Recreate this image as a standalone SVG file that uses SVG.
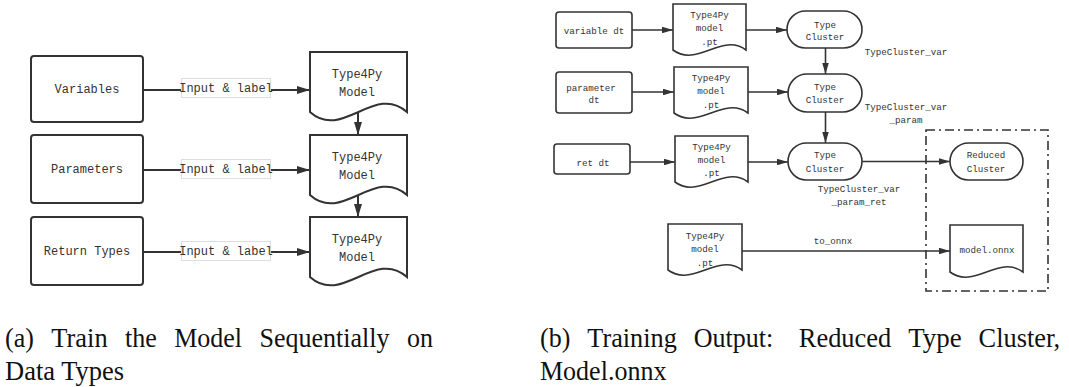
<svg xmlns="http://www.w3.org/2000/svg" width="1069" height="387" viewBox="0 0 1069 387">
  <style>
    .shape { fill: #ffffff; stroke: #333333; stroke-width: 2; }
    .shape-b { fill: #ffffff; stroke: #333333; stroke-width: 1.6; }
    .edge { fill: none; stroke: #333333; stroke-width: 2; }
    .edge-b { fill: none; stroke: #333333; stroke-width: 1.6; }
    .lbl { font-family: "Liberation Mono", "DejaVu Sans Mono", monospace; font-size: 12px; fill: #333333; text-anchor: middle; dominant-baseline: central; }
    .lbl-b { font-family: "Liberation Mono", "DejaVu Sans Mono", monospace; font-size: 9.2px; fill: #333333; text-anchor: middle; dominant-baseline: central; }
    .cap { font-family: "Liberation Serif", "Times New Roman", serif; font-size: 28px; fill: #111111; }
    .tag { fill: #ffffff; stroke: #dddddd; stroke-width: 1; }
    .frame { fill: none; stroke: #333333; stroke-width: 1.6; stroke-dasharray: 9 4 2 4; }
  </style>
  <defs>
    <marker id="arrow" viewBox="0 0 10 10" refX="10" refY="5" markerUnits="userSpaceOnUse" markerWidth="13" markerHeight="8" preserveAspectRatio="none" orient="auto">
      <path d="M0,0 L10,5 L0,10 z" fill="#333333"/>
    </marker>
    <marker id="arrow-b" viewBox="0 0 10 10" refX="10" refY="5" markerUnits="userSpaceOnUse" markerWidth="11" markerHeight="6.5" preserveAspectRatio="none" orient="auto">
      <path d="M0,0 L10,5 L0,10 z" fill="#333333"/>
    </marker>
  </defs>

  <!-- left: sequential training -->
  <g id="connectors-a">
    <line class="edge" x1="143" y1="90" x2="310" y2="90" marker-end="url(#arrow)"/>
    <line class="edge" x1="143" y1="170" x2="310" y2="170" marker-end="url(#arrow)"/>
    <line class="edge" x1="143" y1="252" x2="310" y2="252" marker-end="url(#arrow)"/>
    <line class="edge" x1="358" y1="112" x2="358" y2="135" marker-end="url(#arrow)"/>
    <line class="edge" x1="358" y1="195" x2="358" y2="217" marker-end="url(#arrow)"/>
    <g id="edge-label-1">
      <rect class="tag" x="181.5" y="78.5" width="89" height="19"/>
      <text class="lbl" x="226" y="89">Input &amp; label</text>
    </g>
    <g id="edge-label-2">
      <rect class="tag" x="181.5" y="159.5" width="89" height="19"/>
      <text class="lbl" x="226" y="170">Input &amp; label</text>
    </g>
    <g id="edge-label-3">
      <rect class="tag" x="181.5" y="241.5" width="89" height="19"/>
      <text class="lbl" x="226" y="252">Input &amp; label</text>
    </g>
  </g>

  <g id="variables">
    <rect class="shape" x="31" y="56" width="112" height="66" rx="3"/>
    <text class="lbl" x="87" y="90">Variables</text>
  </g>
  <g id="parameters">
    <rect class="shape" x="31" y="135" width="112" height="68" rx="3"/>
    <text class="lbl" x="87" y="170">Parameters</text>
  </g>
  <g id="return-types">
    <rect class="shape" x="31" y="217" width="112" height="68" rx="3"/>
    <text class="lbl" x="87" y="252">Return Types</text>
  </g>

  <g id="model-1">
    <path class="shape" d="M310,52 H407 V112 C374.7,83 342.3,141 310,112 Z"/>
    <text class="lbl" x="357" y="75">Type4Py</text>
    <text class="lbl" x="357" y="93">Model</text>
  </g>
  <g id="model-2">
    <path class="shape" d="M310,135 H407 V195 C374.7,166 342.3,224 310,195 Z"/>
    <text class="lbl" x="357" y="158">Type4Py</text>
    <text class="lbl" x="357" y="176">Model</text>
  </g>
  <g id="model-3">
    <path class="shape" d="M310,217 H407 V277 C374.7,248 342.3,306 310,277 Z"/>
    <text class="lbl" x="357" y="240">Type4Py</text>
    <text class="lbl" x="357" y="258">Model</text>
  </g>

  <!-- right: training output -->
  <g id="connectors-b">
    <line class="edge-b" x1="632" y1="30" x2="673" y2="30" marker-end="url(#arrow-b)"/>
    <line class="edge-b" x1="746" y1="30" x2="787" y2="30" marker-end="url(#arrow-b)"/>
    <line class="edge-b" x1="632" y1="92" x2="674" y2="92" marker-end="url(#arrow-b)"/>
    <line class="edge-b" x1="748" y1="92" x2="788" y2="92" marker-end="url(#arrow-b)"/>
    <line class="edge-b" x1="630" y1="162" x2="675" y2="162" marker-end="url(#arrow-b)"/>
    <line class="edge-b" x1="748" y1="162" x2="788" y2="162" marker-end="url(#arrow-b)"/>
    <line class="edge-b" x1="825.5" y1="48" x2="825.5" y2="74" marker-end="url(#arrow-b)"/>
    <line class="edge-b" x1="825.5" y1="112" x2="825.5" y2="143" marker-end="url(#arrow-b)"/>
    <line class="edge-b" x1="862" y1="161.5" x2="950" y2="161.5" marker-end="url(#arrow-b)"/>
    <line class="edge-b" x1="742" y1="251" x2="950" y2="251" marker-end="url(#arrow-b)"/>
    <text class="lbl-b" x="906" y="52">TypeCluster_var</text>
    <text class="lbl-b" x="906" y="107">TypeCluster_var</text>
    <text class="lbl-b" x="906" y="120">_param</text>
    <text class="lbl-b" x="859" y="189">TypeCluster_var</text>
    <text class="lbl-b" x="859" y="202">_param_ret</text>
    <text class="lbl-b" x="833" y="241.5">to_onnx</text>
  </g>

  <g id="variable-dt">
    <rect class="shape-b" x="556" y="12" width="76" height="36" rx="3"/>
    <text class="lbl-b" x="594" y="31">variable dt</text>
  </g>
  <g id="parameter-dt">
    <rect class="shape-b" x="556" y="72" width="76" height="41" rx="3"/>
    <text class="lbl-b" x="591" y="88">parameter</text>
    <text class="lbl-b" x="594" y="100">dt</text>
  </g>
  <g id="ret-dt">
    <rect class="shape-b" x="554" y="144" width="76" height="30" rx="3"/>
    <text class="lbl-b" x="593" y="163">ret dt</text>
  </g>

  <g id="pt-1">
    <path class="shape-b" d="M673,4 H746 V50 C721.7,32 697.3,68 673,50 Z"/>
    <text class="lbl-b" x="709.5" y="15">Type4Py</text>
    <text class="lbl-b" x="709.5" y="28">model</text>
    <text class="lbl-b" x="709.5" y="42">.pt</text>
  </g>
  <g id="pt-2">
    <path class="shape-b" d="M674,67 H748 V113 C723.3,95 698.7,131 674,113 Z"/>
    <text class="lbl-b" x="711" y="78">Type4Py</text>
    <text class="lbl-b" x="711" y="91">model</text>
    <text class="lbl-b" x="711" y="105">.pt</text>
  </g>
  <g id="pt-3">
    <path class="shape-b" d="M675,136 H748 V182 C723.7,164 699.3,200 675,182 Z"/>
    <text class="lbl-b" x="711.5" y="147">Type4Py</text>
    <text class="lbl-b" x="711.5" y="160">model</text>
    <text class="lbl-b" x="711.5" y="173">.pt</text>
  </g>
  <g id="pt-export">
    <path class="shape-b" d="M668,224 H742 V270 C717.3,252 692.7,288 668,270 Z"/>
    <text class="lbl-b" x="705" y="236">Type4Py</text>
    <text class="lbl-b" x="705" y="249">model</text>
    <text class="lbl-b" x="705" y="263">.pt</text>
  </g>

  <g id="cluster-1">
    <rect class="shape-b" x="787" y="11" width="75" height="37" rx="18.5"/>
    <text class="lbl-b" x="825" y="25">Type</text>
    <text class="lbl-b" x="825" y="37.5">Cluster</text>
  </g>
  <g id="cluster-2">
    <rect class="shape-b" x="788" y="74" width="74" height="38" rx="19"/>
    <text class="lbl-b" x="825" y="87.5">Type</text>
    <text class="lbl-b" x="825" y="100">Cluster</text>
  </g>
  <g id="cluster-3">
    <rect class="shape-b" x="788" y="143" width="74" height="37" rx="18.5"/>
    <text class="lbl-b" x="825" y="155">Type</text>
    <text class="lbl-b" x="825" y="169">Cluster</text>
  </g>

  <g id="output-group">
    <rect class="frame" x="926" y="130" width="122" height="161"/>
  </g>
  <g id="reduced-cluster">
    <rect class="shape-b" x="950" y="143" width="73" height="37" rx="18.5"/>
    <text class="lbl-b" x="986" y="155">Reduced</text>
    <text class="lbl-b" x="986" y="169">Cluster</text>
  </g>
  <g id="model-onnx">
    <path class="shape-b" d="M950,225 H1023 V272 C998.7,254 974.3,290 950,272 Z"/>
    <text class="lbl-b" x="987" y="250">model.onnx</text>
  </g>

  <!-- captions: justified words, glyphs condensed to the column width -->
  <g id="caption-a">
    <text class="cap" x="5" y="347" textLength="28.9" lengthAdjust="spacingAndGlyphs">(a)</text>
    <text class="cap" x="51.3" y="347" textLength="56.3" lengthAdjust="spacingAndGlyphs">Train</text>
    <text class="cap" x="125" y="347" textLength="31.8" lengthAdjust="spacingAndGlyphs">the</text>
    <text class="cap" x="174.2" y="347" textLength="67.9" lengthAdjust="spacingAndGlyphs">Model</text>
    <text class="cap" x="259.5" y="347" textLength="130" lengthAdjust="spacingAndGlyphs">Sequentially</text>
    <text class="cap" x="406.9" y="347" textLength="26" lengthAdjust="spacingAndGlyphs">on</text>
    <text class="cap" x="5" y="380" textLength="119.1" lengthAdjust="spacingAndGlyphs">Data Types</text>
  </g>
  <g id="caption-b">
    <text class="cap" x="540" y="347" textLength="30.3" lengthAdjust="spacingAndGlyphs">(b)</text>
    <text class="cap" x="587.3" y="347" textLength="89.5" lengthAdjust="spacingAndGlyphs">Training</text>
    <text class="cap" x="693.8" y="347" textLength="79.5" lengthAdjust="spacingAndGlyphs">Output:</text>
    <text class="cap" x="798.8" y="347" textLength="92.4" lengthAdjust="spacingAndGlyphs">Reduced</text>
    <text class="cap" x="908.2" y="347" textLength="53.4" lengthAdjust="spacingAndGlyphs">Type</text>
    <text class="cap" x="978.6" y="347" textLength="81.6" lengthAdjust="spacingAndGlyphs">Cluster,</text>
    <text class="cap" x="540" y="380" textLength="126.4" lengthAdjust="spacingAndGlyphs">Model.onnx</text>
  </g>
</svg>
